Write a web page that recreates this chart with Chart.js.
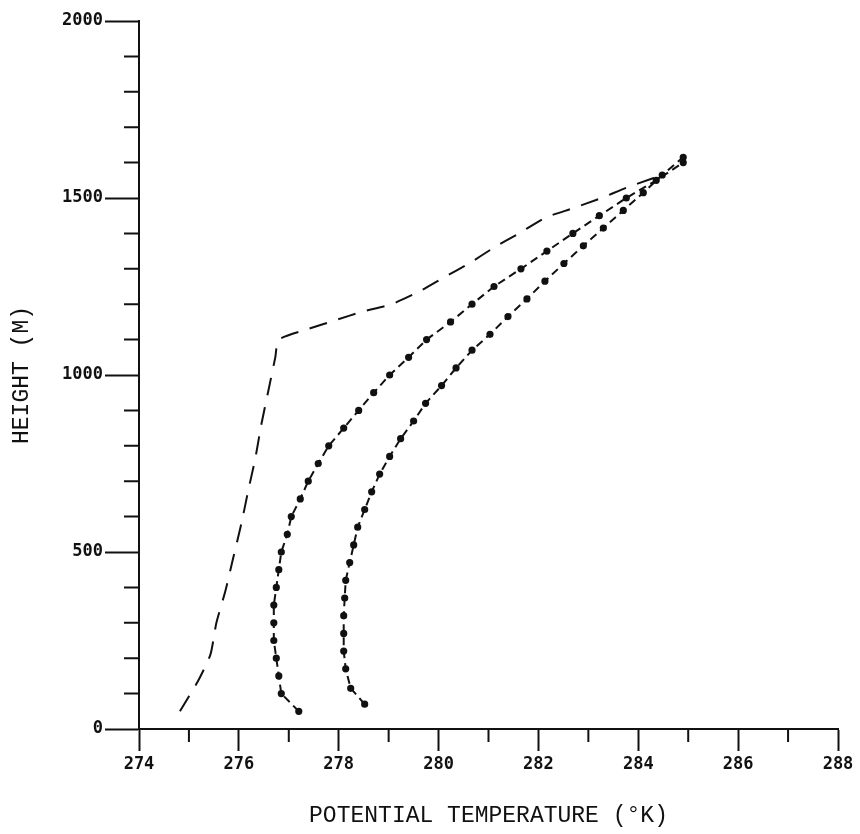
<!DOCTYPE html>
<html>
<head>
<meta charset="utf-8">
<script src="https://cdn.jsdelivr.net/npm/chart.js@4"></script>
<style>
  html, body { margin: 0; padding: 0; background: #fff; }
  #wrap { width: 860px; height: 834px; }
</style>
</head>
<body>
<div id="wrap"><canvas id="chart" width="860" height="834"></canvas></div>
<script>
// ── data ─────────────────────────────────────────────────
const dashHeights = [50, 135, 210, 300, 390, 485, 580, 675, 765, 860, 955, 1050, 1100, 1130, 1155, 1180, 1200, 1235, 1275, 1315, 1360, 1400, 1445, 1470, 1500, 1530, 1555, 1565];
const dashTemps   = [274.82, 275.18, 275.43, 275.55, 275.73, 275.89, 276.05, 276.19, 276.33, 276.45, 276.59, 276.73, 276.8, 277.39, 277.94, 278.5, 279.06, 279.6, 280.1, 280.61, 281.11, 281.61, 282.15, 282.67, 283.26, 283.78, 284.28, 284.52];

const midHeights = [50, 100, 150, 200, 250, 300, 350, 400, 450, 500, 550, 600, 650, 700, 750, 800, 850, 900, 950, 1000, 1050, 1100, 1150, 1200, 1250, 1300, 1350, 1400, 1450, 1500, 1550, 1600];
const midTemps   = [277.2, 276.85, 276.8, 276.75, 276.7, 276.7, 276.7, 276.75, 276.8, 276.85, 276.97, 277.05, 277.23, 277.39, 277.59, 277.8, 278.1, 278.4, 278.7, 279.02, 279.4, 279.76, 280.24, 280.67, 281.11, 281.65, 282.17, 282.69, 283.22, 283.76, 284.36, 284.9];

const rightHeights = [70, 115, 170, 220, 270, 320, 370, 420, 470, 520, 570, 620, 670, 720, 770, 820, 870, 920, 970, 1020, 1070, 1115, 1165, 1215, 1265, 1315, 1365, 1415, 1465, 1515, 1565, 1615];
const rightTemps   = [278.52, 278.24, 278.14, 278.1, 278.1, 278.1, 278.12, 278.14, 278.22, 278.3, 278.38, 278.52, 278.66, 278.82, 279.02, 279.24, 279.5, 279.74, 280.06, 280.35, 280.67, 281.03, 281.39, 281.77, 282.13, 282.51, 282.9, 283.3, 283.7, 284.1, 284.48, 284.9];

const xMin = 274, xMax = 288;
const yMin = 0, yMax = 2000;

const toPts = (xs, ys) => xs.map((x, i) => ({ x: x, y: ys[i] }));

const INK = '#111';
const TICK_FONT = { family: 'DejaVu Sans Mono', size: 17, weight: 'bold' };
const TITLE_FONT = { family: 'Liberation Mono', size: 23 };

// minor ticks (shorter than the major ones drawn by the scales)
const minorTicks = {
  id: 'minorTicks',
  afterDraw(chart) {
    const c = chart.ctx, xs = chart.scales.x, ys = chart.scales.y;
    c.save();
    c.strokeStyle = INK;
    c.lineWidth = 2;
    c.beginPath();
    for (let v = yMin; v <= yMax; v += 100) {
      if (v % 500 === 0) continue;
      const py = ys.getPixelForValue(v);
      c.moveTo(xs.left - 15, py); c.lineTo(xs.left, py);
    }
    for (let v = xMin + 1; v < xMax; v += 2) {
      const px = xs.getPixelForValue(v);
      c.moveTo(px, ys.bottom); c.lineTo(px, ys.bottom + 13);
    }
    c.stroke();
    c.restore();
  }
};

new Chart(document.getElementById('chart'), {
  type: 'line',
  data: {
    datasets: [
      {
        data: toPts(dashTemps, dashHeights),
        borderColor: INK, borderWidth: 2, borderDash: [18, 12],
        pointRadius: 0, tension: 0.2, fill: false
      },
      {
        data: toPts(midTemps, midHeights),
        borderColor: INK, borderWidth: 2, borderDash: [8, 5],
        pointRadius: 2.6, pointBackgroundColor: INK, pointBorderColor: INK,
        tension: 0, fill: false
      },
      {
        data: toPts(rightTemps, rightHeights),
        borderColor: INK, borderWidth: 2, borderDash: [8, 5],
        pointRadius: 2.6, pointBackgroundColor: INK, pointBorderColor: INK,
        tension: 0, fill: false
      }
    ]
  },
  options: {
    responsive: false,
    animation: false,
    layout: { padding: { top: 21, right: 22, left: 0, bottom: 0 } },
    plugins: { legend: { display: false }, tooltip: { enabled: false } },
    scales: {
      x: {
        type: 'linear', min: xMin, max: xMax,
        border: { color: INK, width: 2 },
        grid: {
          drawOnChartArea: false, tickLength: 22, tickWidth: 2,
          tickColor: ctx => (ctx.tick && ctx.tick.value % 2 === 0) ? INK : 'rgba(0,0,0,0)'
        },
        ticks: {
          stepSize: 1, padding: 3, color: INK, font: TICK_FONT, maxRotation: 0,
          autoSkip: false,
          callback: v => (v % 2 === 0 ? v : '')
        },
        title: {
          display: true, text: 'POTENTIAL TEMPERATURE (°K)', color: INK,
          font: TITLE_FONT, padding: { top: 20, bottom: 4 }
        },
        afterFit: s => { s.height = 105; }
      },
      y: {
        type: 'linear', min: yMin, max: yMax,
        border: { color: INK, width: 2 },
        grid: {
          drawOnChartArea: false, tickLength: 34, tickWidth: 2,
          tickColor: ctx => (ctx.tick && ctx.tick.value % 500 === 0) ? INK : 'rgba(0,0,0,0)'
        },
        ticks: {
          stepSize: 100, padding: 2, color: INK, font: TICK_FONT, autoSkip: false,
          callback: v => (v % 500 === 0 ? v : '')
        },
        title: {
          display: true, text: 'HEIGHT (M)', color: INK,
          font: TITLE_FONT, padding: { top: 8, bottom: 0 }
        },
        afterFit: s => { s.width = 139; }
      }
    }
  },
  plugins: [minorTicks]
});
</script>
</body>
</html>
